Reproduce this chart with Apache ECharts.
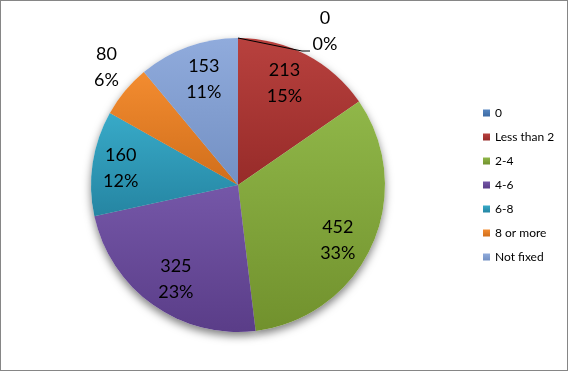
<!DOCTYPE html>
<html><head><meta charset="utf-8">
<script src="https://cdn.jsdelivr.net/npm/echarts@6/dist/echarts.min.js"></script>
<style>
html,body{margin:0;padding:0;background:#fff;}
#c{width:568px;height:371px;box-sizing:border-box;border:1px solid #868686;}
</style></head>
<body><div id="c"></div>
<script>
const categories = ['0', 'Less than 2', '2-4', '4-6', '6-8', '8 or more', 'Not fixed'];
const values = [0, 213, 452, 325, 160, 80, 153];
const topColors = ['#5585C0', '#B8413E', '#90B749', '#7557A8', '#38AAC8', '#F38C30', '#90ABDC'];
const bottomColors = ['#3C6AA3', '#972B29', '#71912D', '#5A3D88', '#2585A2', '#D06E1B', '#7390C3'];
// small label nudges (layout only) to follow the reference's best-fit placement
const labelNudge = [[0, 0], [-7, 0], [-5, 7.5], [4.5, 0.5], [-3.5, 0], [6, -3.5], [5, 2.5]];

const font = 'Lato, "Liberation Sans", sans-serif';
const center = [237, 184];
const R = 147;
const total = values.reduce((a, b) => a + b, 0);

function grad(i) {
  return new echarts.graphic.LinearGradient(0, 0, 0, 1, [
    {offset: 0, color: topColors[i]}, {offset: 1, color: bottomColors[i]}
  ]);
}
const pieData = categories.map((c, i) => ({name: c, value: values[i], itemStyle: {color: grad(i)}}));
const fmt = p => p.value + '\n' + Math.round(p.value / total * 100) + '%';
const labelStyle = {color: '#000', fontFamily: font, fontSize: 18, lineHeight: 26};
const nudge = p => ({dx: labelNudge[p.dataIndex][0], dy: labelNudge[p.dataIndex][1]});
const edgeTop = [center[0], center[1] - R];

const chart = echarts.init(document.getElementById('c'), null, {renderer: 'canvas'});
chart.setOption({
  animation: false,
  legend: {
    orient: 'vertical', left: 482, top: 105, padding: 0,
    itemWidth: 7, itemHeight: 7, itemGap: 10, icon: 'rect',
    textStyle: {fontFamily: font, fontSize: 12, color: '#000', lineHeight: 14},
    data: categories
  },
  graphic: [{
    type: 'polyline', z: 100, silent: true,
    shape: {points: [edgeTop, [edgeTop[0] + 64, edgeTop[1] + 13], [edgeTop[0] + 72, edgeTop[1] + 13]]},
    style: {stroke: '#000', lineWidth: 1, fill: null}
  }],
  series: [
    { // shadow under pie
      type: 'pie', center: center, radius: [0, R], startAngle: 90, clockwise: true,
      silent: true, legendHoverLink: false, label: {show: false}, labelLine: {show: false},
      itemStyle: {color: '#ffffff', shadowBlur: 8, shadowOffsetY: 4, shadowColor: 'rgba(0,0,0,0.5)'},
      data: categories.map((c, i) => ({name: c + ' ', value: values[i]})),
      emphasis: {disabled: true}
    },
    { // main pie
      type: 'pie', center: center, radius: [0, R], startAngle: 90, clockwise: true,
      itemStyle: {borderWidth: 0},
      emphasis: {disabled: true},
      label: {show: false},
      labelLine: {show: false},
      data: pieData.map((d, i) => i === 0 ? Object.assign({}, d, {
        label: Object.assign({show: true, position: 'outside', formatter: fmt, align: 'center'}, labelStyle)
      }) : d),
      labelLayout: function (p) {
        if (p.dataIndex !== 0) return {};
        return {x: edgeTop[0] + 87, y: edgeTop[1] - 7, align: 'center', verticalAlign: 'middle'};
      }
    },
    { // inside labels
      type: 'pie', center: center, radius: [77, R], startAngle: 90, clockwise: true,
      silent: true, legendHoverLink: false, itemStyle: {color: 'rgba(0,0,0,0)'},
      emphasis: {disabled: true}, labelLine: {show: false},
      label: Object.assign({show: true, position: 'inside', formatter: fmt}, labelStyle),
      labelLayout: nudge,
      data: categories.map((c, i) => ({name: c + '  ', value: values[i],
        label: {show: i !== 0 && i !== 5}}))
    },
    { // outer label for small slice
      type: 'pie', center: center, radius: [165, 187], startAngle: 90, clockwise: true,
      silent: true, legendHoverLink: false, itemStyle: {color: 'rgba(0,0,0,0)'},
      emphasis: {disabled: true}, labelLine: {show: false},
      label: Object.assign({show: true, position: 'inside', formatter: fmt}, labelStyle),
      labelLayout: nudge,
      data: categories.map((c, i) => ({name: c + '   ', value: values[i],
        label: {show: i === 5}}))
    }
  ]
});
</script></body></html>
